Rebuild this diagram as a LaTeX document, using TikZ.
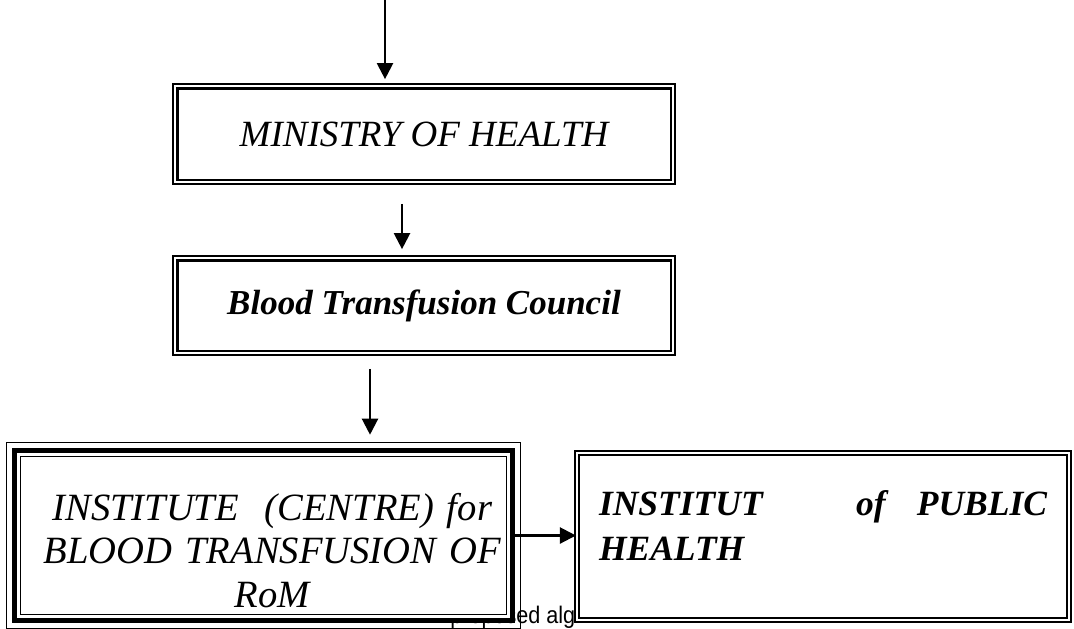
\documentclass[tikz,border=0pt]{standalone}
\usepackage{fontspec}
\usepackage{graphicx}
\setmainfont{Liberation Serif}
\newfontfamily\algfont{Liberation Sans}
\usetikzlibrary{arrows.meta}
\begin{document}
\begin{tikzpicture}[x=0.5pt,y=-0.5pt,
  dblbox/.style={draw,fill=white,line width=1.05pt,double=white,
                 double distance=1.2pt,inner sep=0pt},
  thickbox/.style={draw,fill=white,line width=2.3pt,inner sep=0pt},
  thinline/.style={draw,line width=0.65pt},
  arr/.style={-{Triangle[length=8pt,width=8pt]},line width=1.1pt},
  algtext/.style={font=\algfont\fontsize{12}{14}\selectfont,inner sep=0pt}]
\path[use as bounding box] (0,0) rectangle (1074,628);
\node[algtext,anchor=base west] (alg) at (450,623) {\scalebox{0.9}[1]{proposed alg}};
\node[dblbox,minimum width=248.8pt,minimum height=47.8pt,
      font=\fontsize{18.5}{22}\selectfont\itshape] (ministry) at (424,134)
      {\raisebox{-2pt}{MINISTRY OF HEALTH}};
\node[dblbox,minimum width=248.8pt,minimum height=47.3pt,
      font=\fontsize{17.5}{21}\selectfont\bfseries\itshape] (council) at (424,305.5)
      {\raisebox{-2pt}{Blood Transfusion Council}};
\node[thickbox,minimum width=249.25pt,minimum height=85pt,text width=245pt,align=center,
      text height=12pt,text depth=27.5pt,
      font=\fontsize{19.3}{21.75}\selectfont\itshape] (institute) at (263.25,535.5)
      {\hspace*{9pt}INSTITUTE\ \ (CENTRE) for\\\hspace*{9pt}BLOOD TRANSFUSION OF\\\hspace*{9pt}RoM};
\draw[thinline] ([shift={(-5.5,-5.5)}]institute.north west) rectangle ([shift={(5.5,5.5)}]institute.south east);
\draw[thinline,double=white,double distance=1.4pt] ([shift={(6.5,6.5)}]institute.north west)
      rectangle ([shift={(-6.5,-6.5)}]institute.south east);
\node[dblbox,minimum width=246pt,minimum height=83.5pt,text width=224pt,align=left,
      text height=12pt,text depth=33.5pt,
      font=\fontsize{17.75}{22.5}\selectfont\bfseries\itshape] (public) at (823,536.5)
      {INSTITUT\hfill\hfill\hfill of\hfill PUBLIC\\HEALTH};
\coordinate (top) at (385,0);
\draw[arr,shorten >=3pt] (top) -- (top |- ministry.north);
\draw[arr,shorten <=10.5pt,shorten >=4pt] ([xshift=-11pt]ministry.south) -- ([xshift=-11pt]council.north);
\draw[arr,shorten <=7.5pt,shorten >=6.75pt] ([xshift=-27pt]council.south)
      -- ([xshift=-27pt]council.south |- institute.north);
\draw[arr] (institute.east) -- (institute.east -| public.west);
\end{tikzpicture}
\end{document}
